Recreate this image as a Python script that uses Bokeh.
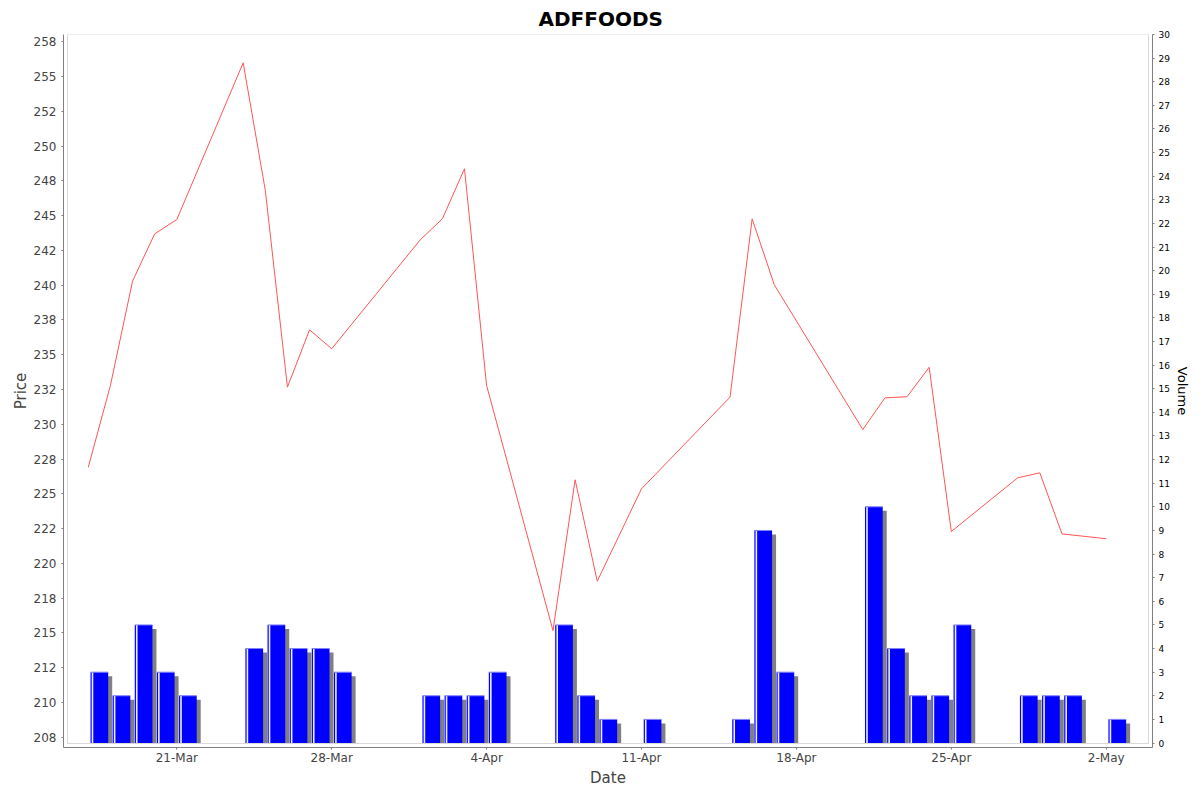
import pandas as pd
from bokeh.plotting import figure
from bokeh.models import Range1d, LinearAxis, FixedTicker, BoxAnnotation, ColumnDataSource
from bokeh.embed import file_html
from bokeh.resources import INLINE

# ---------------- data ----------------
title_text = "ADFFOODS"
dates = ["2025-03-17", "2025-03-18", "2025-03-19", "2025-03-20", "2025-03-21",
         "2025-03-24", "2025-03-25", "2025-03-26", "2025-03-27", "2025-03-28",
         "2025-04-01", "2025-04-02", "2025-04-03", "2025-04-04",
         "2025-04-07", "2025-04-08", "2025-04-09",
         "2025-04-11",
         "2025-04-15", "2025-04-16", "2025-04-17",
         "2025-04-21", "2025-04-22", "2025-04-23", "2025-04-24", "2025-04-25",
         "2025-04-28", "2025-04-29", "2025-04-30",
         "2025-05-02"]
prices = [226.91, 232.79, 240.29, 243.69, 244.72,
          255.99, 246.81, 232.67, 236.79, 235.43,
          243.26, 244.77, 248.37, 232.79,
          215.17, 226.01, 218.72,
          225.36,
          231.95, 244.77, 240.03,
          229.62, 231.90, 231.98, 234.10, 222.29,
          226.15, 226.51, 222.12,
          221.77]
volumes = [3, 2, 5, 3, 2,
           4, 5, 4, 4, 3,
           2, 2, 2, 3,
           5, 2, 1,
           1,
           1, 9, 3,
           10, 4, 2, 2, 5,
           2, 2, 2,
           1]
x_tick_dates = ["2025-03-21", "2025-03-28", "2025-04-04", "2025-04-11",
                "2025-04-18", "2025-04-25", "2025-05-02"]
x_tick_labels = ["21-Mar", "28-Mar", "4-Apr", "11-Apr", "18-Apr", "25-Apr", "2-May"]
price_ticks = [207.5, 210.0, 212.5, 215.0, 217.5, 220.0, 222.5, 225.0, 227.5, 230.0,
               232.5, 235.0, 237.5, 240.0, 242.5, 245.0, 247.5, 250.0, 252.5, 255.0, 257.5]
price_tick_labels = ["208", "210", "212", "215", "218", "220", "222", "225", "228", "230",
                     "232", "235", "238", "240", "242", "245", "248", "250", "252", "255", "258"]
volume_ticks = [0, 1, 2, 3, 4, 5, 6, 7, 8, 9, 10, 11, 12, 13, 14, 15, 16, 17, 18, 19, 20,
                21, 22, 23, 24, 25, 26, 27, 28, 29, 30]

# ---------------- geometry ----------------
MS_DAY = 86400000
FRAME_W, FRAME_H = 1089, 713
BORDER_L, BORDER_R, BORDER_T, BORDER_B = 63, 48, 34, 45
PX_PER_DAY = 22.129
PX_PER_PRICE = 13.908
PX_PER_VOL = 23.617

def to_ms(s):
    return int(pd.Timestamp(s).value // 10**6)

x_ms = [to_ms(d) for d in dates]
tick_ms = [to_ms(d) for d in x_tick_dates]

x_start = to_ms("2025-03-21") - 5.12 * MS_DAY
x_end = x_start + FRAME_W / PX_PER_DAY * MS_DAY
p_start = 206.76
p_end = p_start + FRAME_H / PX_PER_PRICE
v_start = -0.19
v_end = v_start + FRAME_H / PX_PER_VOL

px_x = (x_end - x_start) / FRAME_W
px_p = (p_end - p_start) / FRAME_H
px_v = (v_end - v_start) / FRAME_H

FONT = "DejaVu Sans"

p = figure(frame_width=FRAME_W, frame_height=FRAME_H,
           min_border_left=BORDER_L, min_border_right=BORDER_R,
           min_border_top=BORDER_T, min_border_bottom=BORDER_B,
           x_axis_type="datetime", x_range=Range1d(x_start, x_end),
           y_range=Range1d(p_start, p_end),
           output_backend="svg", toolbar_location=None,
           background_fill_color="white", border_fill_color="white")
p.extra_y_ranges = {"vol": Range1d(v_start, v_end)}
p.xgrid.visible = False
p.ygrid.visible = False
p.outline_line_color = None

p.title.text = title_text
p.title.align = "left"
p.title.offset = 475
p.title.text_font = FONT
p.title.text_font_size = "20px"
p.title.text_font_style = "bold"
p.title.text_color = "black"
p.title.standoff = 8

# ---------------- bars ----------------
left = [x + 0.1 * MS_DAY for x in x_ms]
right = [x + 0.9 * MS_DAY for x in x_ms]
src = ColumnDataSource(dict(
    left=left, right=right, vol=volumes, zero=[0] * len(volumes),
    sleft=[l + 4 * px_x for l in left], sright=[r + 4 * px_x for r in right],
    stop=[v - 4 * px_v for v in volumes],
    stripe=[l + 2 * px_x for l in left],
))
p.quad(left="sleft", right="sright", bottom="zero", top="stop", source=src,
       y_range_name="vol", fill_color="#808080", line_color=None)
p.quad(left="left", right="right", bottom="zero", top="vol", source=src,
       y_range_name="vol", fill_color="#0000ff", line_color=None)
p.segment(x0="stripe", x1="stripe", y0="zero", y1="vol", source=src,
          y_range_name="vol", line_color="#eeeeff", line_width=1.6)
p.segment(x0="left", x1="right", y0="vol", y1="vol", source=src,
          y_range_name="vol", line_color="#8080ff", line_width=1)

# ---------------- price line ----------------
p.line(x=x_ms, y=prices, line_color="#ff5555", line_width=1)

# ---------------- inner border ----------------
p.add_layout(BoxAnnotation(left=x_start + 4 * px_x, right=x_end - 4 * px_x,
                           bottom=p_start + 4 * px_p, top=p_end,
                           fill_alpha=0, line_color="#808080", line_width=1))

# ---------------- axes ----------------
def style(ax, size, color, lsize, lcolor):
    ax.axis_line_color = "#808080"
    ax.major_tick_line_color = "#808080"
    ax.major_tick_out = 2
    ax.major_tick_in = 0
    ax.minor_tick_line_color = None
    ax.major_label_text_font = FONT
    ax.major_label_text_font_size = size
    ax.major_label_text_color = color
    ax.axis_label_text_font = FONT
    ax.axis_label_text_font_size = lsize
    ax.axis_label_text_font_style = "normal"
    ax.axis_label_text_color = lcolor

xa = p.xaxis[0]
xa.ticker = FixedTicker(ticks=tick_ms)
xa.major_label_overrides = {t: l for t, l in zip(tick_ms, x_tick_labels)}
xa.axis_label = "Date"
xa.major_label_standoff = 1
xa.axis_label_standoff = 1
style(xa, "12px", "#444444", "15px", "#444444")

ya = p.yaxis[0]
ya.ticker = FixedTicker(ticks=price_ticks)
ya.major_label_overrides = {t: l for t, l in zip(price_ticks, price_tick_labels)}
ya.axis_label = "Price"
ya.major_label_standoff = 5
ya.axis_label_standoff = 1
style(ya, "12px", "#444444", "15px", "#444444")

ra = LinearAxis(y_range_name="vol", ticker=FixedTicker(ticks=volume_ticks), axis_label="Volume")
ra.major_label_standoff = 4
ra.axis_label_standoff = 2
style(ra, "9px", "black", "13px", "black")
p.add_layout(ra, "right")

open("out.html", "w").write(file_html(p, INLINE))
